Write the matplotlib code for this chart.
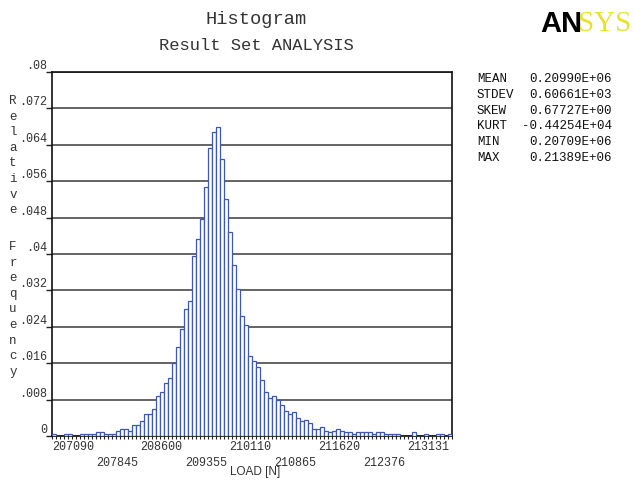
import matplotlib
matplotlib.use("Agg")
import matplotlib.pyplot as plt
import numpy as np

# data
x_min = 207090.0
x_max = 213886.0
n_bins = 100
rel_freq = [
    0.0004, 0.0, 0.0, 0.0004, 0.0004, 0.0, 0.0, 0.0004, 0.0004, 0.0004,
    0.0004, 0.0008, 0.0008, 0.0004, 0.0004, 0.0004, 0.0012, 0.0016, 0.0016, 0.0012,
    0.0024, 0.0024, 0.0032, 0.0048, 0.0048, 0.0060, 0.0088, 0.0096, 0.0116, 0.0128,
    0.0160, 0.0196, 0.0236, 0.0280, 0.0296, 0.0396, 0.0432, 0.0476, 0.0548, 0.0632,
    0.0668, 0.0680, 0.0608, 0.0520, 0.0448, 0.0376, 0.0324, 0.0264, 0.0244, 0.0176,
    0.0164, 0.0152, 0.0124, 0.0096, 0.0084, 0.0088, 0.0080, 0.0068, 0.0056, 0.0048,
    0.0052, 0.0040, 0.0032, 0.0036, 0.0028, 0.0016, 0.0016, 0.0020, 0.0012, 0.0008,
    0.0012, 0.0016, 0.0012, 0.0008, 0.0008, 0.0004, 0.0008, 0.0008, 0.0008, 0.0008,
    0.0004, 0.0008, 0.0008, 0.0004, 0.0004, 0.0004, 0.0004, 0.0, 0.0, 0.0,
    0.0008, 0.0, 0.0, 0.0004, 0.0, 0.0, 0.0004, 0.0004, 0.0, 0.0004,
]
x_labels = ["207090", "207845", "208600", "209355", "210110",
            "210865", "211620", "212376", "213131"]
y_ticks = [0, .008, .016, .024, .032, .04, .048, .056, .064, .072, .08]
stat_names = ["MEAN", "STDEV", "SKEW", "KURT", "MIN", "MAX"]
stat_values = ["0.20990E+06", "0.60661E+03", "0.67727E+00",
               "-0.44254E+04", "0.20709E+06", "0.21389E+06"]

MONO = "Liberation Mono"
TXT = "#333333"

fig = plt.figure(figsize=(6.35, 4.8), dpi=100)
ax = fig.add_axes([51.7 / 635, 44 / 480, 400 / 635, 364 / 480])

edges = np.linspace(x_min, x_max, n_bins + 1)
ax.bar(edges[:-1], rel_freq, width=np.diff(edges), align="edge",
       facecolor="white", edgecolor="#3d58b4", linewidth=0.9, zorder=3)

ax.set_xlim(x_min, x_max)
ax.set_ylim(0, 0.08)

# horizontal grid
ax.set_yticks(y_ticks)
ax.set_yticklabels(["0" if v == 0 else f"{v:.3f}".rstrip("0").lstrip("0") for v in y_ticks],
                   fontfamily=MONO, fontsize=8.5, color=TXT, va="bottom")
ax.tick_params(axis="y", length=4, width=1, colors="#222222", pad=-1)
for lbl in ax.get_yticklabels():
    lbl.set_color(TXT)
ax.yaxis.grid(True, color="#3a3a3a", linewidth=1.1, zorder=1)

# small ticks at each bin edge, labels alternating on two rows
ax.set_xticks(edges, minor=True)
ax.set_xticks([])
ax.tick_params(axis="x", which="minor", length=2, width=0.8, colors="#222222")
step = (x_max - x_min) / 9
for k, lab in enumerate(x_labels):
    ax.text(x_min + k * step, -0.031 if k % 2 == 0 else -0.075, lab,
            transform=ax.get_xaxis_transform(), ha="left", va="center",
            fontfamily=MONO, fontsize=8.5, color=TXT)

for s in ax.spines.values():
    s.set_color("#111111")
    s.set_linewidth(1.2)

fig.text(256 / 635, 1 - 19 / 480, "Histogram", ha="center", va="center",
         fontfamily=MONO, fontsize=13.5, color=TXT)
fig.text(256 / 635, 1 - 45 / 480, "Result Set ANALYSIS", ha="center", va="center",
         fontfamily=MONO, fontsize=12.3, color=TXT)
fig.text(255 / 635, 1 - 472 / 480, "LOAD [N]", ha="center", va="center",
         fontfamily="Liberation Sans", fontsize=8.5, color=TXT)

# vertical stacked y-axis title
for k, ch in enumerate("Relative"):
    fig.text(13 / 635, 1 - (101 + 15.6 * k) / 480, ch, ha="center", va="center",
             fontfamily=MONO, fontsize=9, color=TXT)
for k, ch in enumerate("Frequency"):
    fig.text(13 / 635, 1 - (247 + 15.6 * k) / 480, ch, ha="center", va="center",
             fontfamily=MONO, fontsize=9, color=TXT)

# statistics block
for k, (nm, val) in enumerate(zip(stat_names, stat_values)):
    y = 1 - (79 + 15.8 * k) / 480
    fig.text(477 / 635, y, nm, ha="left", va="center", fontfamily=MONO, fontsize=9, color="#111111")
    fig.text(612 / 635, y, val, ha="right", va="center", fontfamily=MONO, fontsize=9, color="#111111")

# logo
fig.text(540 / 635, 1 - 24 / 480, "AN", ha="left", va="center",
         fontfamily="Liberation Sans", fontweight="bold", fontsize=21, color="black")
fig.text(578 / 635, 1 - 24 / 480, "SYS", ha="left", va="center",
         fontfamily="Liberation Serif", fontsize=21, color="#e8e22a")

fig.savefig("out.png", dpi=100)
